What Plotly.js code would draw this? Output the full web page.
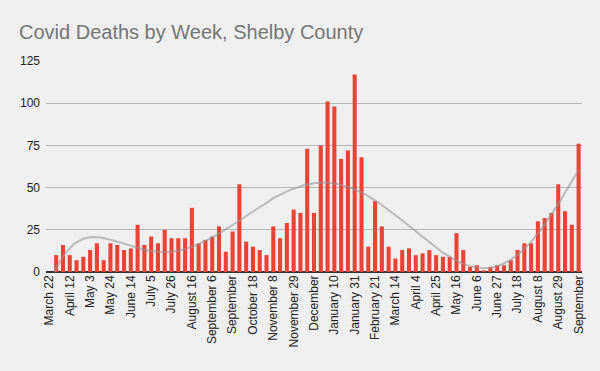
<!DOCTYPE html>
<html>
<head>
<meta charset="utf-8">
<script src="https://cdn.plot.ly/plotly-3.0.1.min.js"></script>
<style>
  html, body { margin: 0; padding: 0; background: #efefef; }
  #chart { width: 600px; height: 371px; }
</style>
</head>
<body>
<div id="chart"></div>
<script>
// Weekly Covid deaths, Shelby County (week starting March 22, 2020 ... September 19, 2021)
const deaths = [
  0, 10, 16, 10, 7, 9, 13, 17, 7, 17,
  16, 13, 14, 28, 16, 21, 17, 25, 20, 20,
  20, 38, 17, 19, 21, 27, 12, 24, 52, 18,
  15, 13, 10, 27, 20, 29, 37, 35, 73, 35,
  75, 101, 98, 67, 72, 117, 68, 15, 42, 27,
  15, 8, 13, 14, 10, 11, 13, 10, 9, 9,
  23, 13, 3, 4, 1, 3, 4, 4, 7, 13,
  17, 17, 30, 32, 35, 52, 36, 28, 76
];
// Tick labels, shown every third week
const tickLabels = [
  "March 22", "April 12", "May 3", "May 24", "June 14", "July 5", "July 26",
  "August 16", "September 6", "September", "October 18", "November 8",
  "November 29", "December", "January 10", "January 31", "February 21",
  "March 14", "April 4", "April 25", "May 16", "June 6", "June 27",
  "July 18", "August 8", "August 29", "September"
];
const tickStep = 3;
const yTicks = [0, 25, 50, 75, 100, 125];
const trendDegree = 6;

const n = deaths.length;
const xs = deaths.map((_, i) => i);
const tickVals = tickLabels.map((_, k) => k * tickStep);

// Polynomial least-squares trendline fitted to the data
function polyFit(x, y, deg) {
  const x0 = (x[0] + x[x.length - 1]) / 2, s = (x[x.length - 1] - x[0]) / 2;
  const t = x.map(v => (v - x0) / s);
  const m = deg + 1;
  const A = Array.from({length: m}, () => new Array(m + 1).fill(0));
  for (let i = 0; i < t.length; i++) {
    const p = [];
    for (let j = 0; j < m; j++) p.push(Math.pow(t[i], j));
    for (let r = 0; r < m; r++) {
      for (let c = 0; c < m; c++) A[r][c] += p[r] * p[c];
      A[r][m] += p[r] * y[i];
    }
  }
  for (let col = 0; col < m; col++) {
    let piv = col;
    for (let r = col + 1; r < m; r++) if (Math.abs(A[r][col]) > Math.abs(A[piv][col])) piv = r;
    [A[col], A[piv]] = [A[piv], A[col]];
    for (let r = 0; r < m; r++) {
      if (r === col) continue;
      const f = A[r][col] / A[col][col];
      for (let c = col; c <= m; c++) A[r][c] -= f * A[col][c];
    }
  }
  const coef = A.map((row, i) => row[m] / row[i]);
  return v => { const tt = (v - x0) / s; let r = 0; for (let j = m - 1; j >= 0; j--) r = r * tt + coef[j]; return r; };
}
const f = polyFit(xs, deaths, trendDegree);
const tx = [], ty = [];
for (let v = 0; v <= n - 1 + 1e-9; v += 0.25) { tx.push(v); ty.push(f(v)); }

const bars = {
  type: 'bar', x: xs, y: deaths,
  marker: {color: '#ea4335'},
  hoverinfo: 'y'
};
const trend = {
  type: 'scatter', mode: 'lines', x: tx, y: ty,
  line: {color: 'rgba(150,150,150,0.6)', width: 2},
  hoverinfo: 'skip'
};

const layout = {
  width: 600, height: 371,
  paper_bgcolor: '#efefef', plot_bgcolor: '#efefef',
  margin: {l: 46, r: 18, t: 61, b: 99},
  showlegend: false,
  bargap: 0.4,
  title: {
    text: 'Covid Deaths by Week, Shelby County',
    font: {family: 'Liberation Sans, Arial, sans-serif', size: 20, color: '#757575'},
    x: 19 / 600, xanchor: 'left', xref: 'container',
    y: 1 - 32 / 371, yanchor: 'middle', yref: 'container'
  },
  xaxis: {
    range: [-0.5, n - 0.5],
    tickmode: 'array', tickvals: tickVals, ticktext: tickLabels,
    tickangle: -90, ticks: '', ticklen: 0,
    tickfont: {family: 'Liberation Sans, Arial, sans-serif', size: 12, color: '#222'},
    showgrid: false, zeroline: false, showline: false, fixedrange: true
  },
  yaxis: {
    range: [0, 125],
    tickmode: 'array', tickvals: yTicks,
    tickfont: {family: 'Liberation Sans, Arial, sans-serif', size: 12, color: '#222'},
    ticklabelstandoff: 5,
    gridcolor: '#b7b7b7', gridwidth: 1,
    zeroline: true, zerolinecolor: '#333', zerolinewidth: 1.5,
    ticks: '', showline: false, fixedrange: true
  }
};

Plotly.newPlot('chart', [trend, bars], layout, {displayModeBar: false, staticPlot: true});
</script>
</body>
</html>
